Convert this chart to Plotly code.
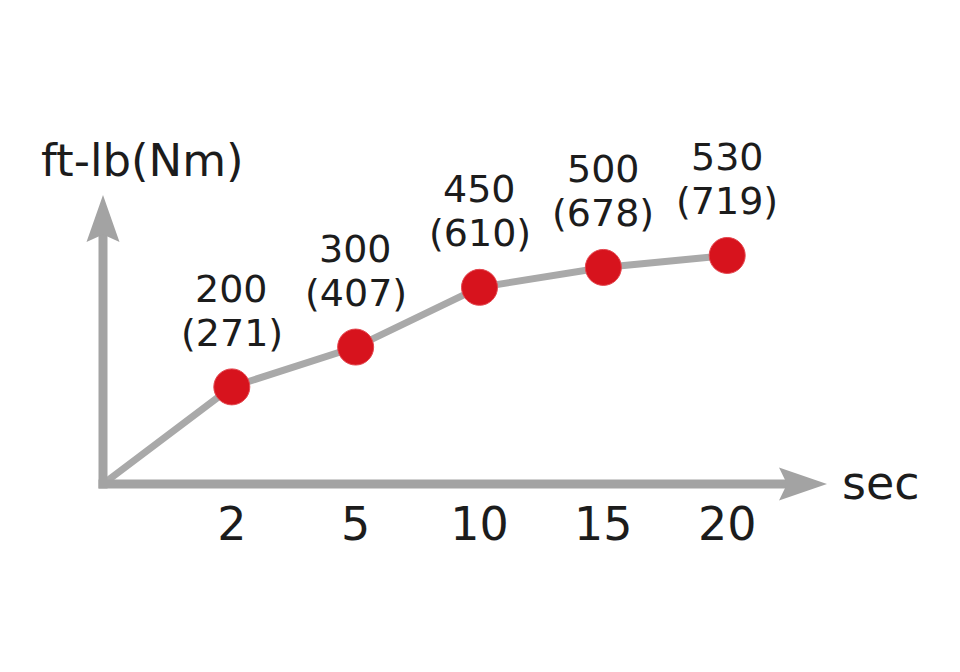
import plotly.graph_objects as go

# ---- data ----
seconds = ["2", "5", "10", "15", "20"]          # categories (tick labels)
torque_ftlb = [200, 300, 450, 500, 530]         # ft-lb values
torque_nm = [271, 407, 610, 678, 719]           # Nm values
x_title = "sec"
y_title = "ft-lb(Nm)"

positions = list(range(1, len(seconds) + 1))

# ---- frame geometry ----
W, H = 960, 672
X_BASE, Y_BASE = -0.04, -44          # where the drawn axes cross
PX_X, PX_Y = 123.85, 0.3988          # pixels per data unit
PAD = 20                             # px of room around the axis corner
ML, MB, MR, MT = 103 - PAD, 187.5 - PAD, 120, 190
PW, PH = W - ML - MR, H - MT - MB
X_MIN = X_BASE - PAD / PX_X
Y_MIN = Y_BASE - PAD / PX_Y
X_MAX = X_MIN + PW / PX_X
Y_MAX = Y_MIN + PH / PX_Y

AXIS_GREY = "#a3a3a3"
LINE_GREY = "#a9a9a9"
RED = "#d7131d"
TEXT = "#1c1c1c"
FONT = "DejaVu Sans"


def px(dx, dy):
    """pixel offset from the axis corner -> data coordinates"""
    return X_BASE + dx / PX_X, Y_BASE + dy / PX_Y


def paper(x_px, y_px):
    """page pixel (from top-left) -> paper coordinates"""
    return (x_px - ML) / PW, (H - MB - y_px) / PH


def path(points):
    s = []
    for i, (dx, dy) in enumerate(points):
        x, y = px(dx, dy)
        s.append(("M" if i == 0 else "L") + f"{x:.5f},{y:.5f}")
    return " ".join(s) + " Z"


fig = go.Figure()

# connecting line from the origin corner
fig.add_trace(go.Scatter(
    x=[X_BASE] + positions, y=[Y_BASE] + torque_ftlb,
    mode="lines", line=dict(color=LINE_GREY, width=7),
    hoverinfo="skip", showlegend=False, cliponaxis=False))

# red dots
fig.add_trace(go.Scatter(
    x=positions, y=torque_ftlb, mode="markers",
    marker=dict(size=36, color=RED, line=dict(width=1, color="#e4474f")),
    showlegend=False, cliponaxis=False, hoverinfo="skip"))

annotations = []
for p, v, nm in zip(positions, torque_ftlb, torque_nm):
    annotations.append(dict(x=p, y=v, xref="x", yref="y", text=str(v),
                            showarrow=False, yanchor="middle", yshift=98,
                            font=dict(family=FONT, size=38, color=TEXT)))
    annotations.append(dict(x=p, y=v, xref="x", yref="y", text=f"({nm})",
                            showarrow=False, yanchor="middle", yshift=54,
                            font=dict(family=FONT, size=38, color=TEXT)))

tx, ty = paper(142, 160)
annotations.append(dict(x=tx, y=ty, xref="paper", yref="paper", text=y_title,
                        showarrow=False, xanchor="center", yanchor="middle",
                        font=dict(family=FONT, size=45, color=TEXT)))
sx, sy = paper(881, 483)
annotations.append(dict(x=sx, y=sy, xref="paper", yref="paper", text=x_title,
                        showarrow=False, xanchor="center", yanchor="middle",
                        font=dict(family=FONT, size=46, color=TEXT)))

x0s, _ = px(-4.5, 0)
x1s, _ = px(686, 0)
_, y1s = px(0, 252)
_, ysb = px(0, -4.5)

shapes = [
    # x-axis shaft
    dict(type="line", xref="x", yref="y", x0=x0s, x1=x1s, y0=Y_BASE, y1=Y_BASE,
         line=dict(color=AXIS_GREY, width=9), layer="above"),
    # x-axis head
    dict(type="path", xref="x", yref="y",
         path=path([(724, 0), (676, 16.5), (684, 0), (676, -16.5)]),
         fillcolor=AXIS_GREY, line=dict(width=0), layer="above"),
    # y-axis shaft
    dict(type="line", xref="x", yref="y", x0=X_BASE, x1=X_BASE, y0=ysb, y1=y1s,
         line=dict(color=AXIS_GREY, width=9), layer="above"),
    # y-axis head
    dict(type="path", xref="x", yref="y",
         path=path([(0, 289.5), (16.5, 242.5), (0, 250), (-16.5, 242.5)]),
         fillcolor=AXIS_GREY, line=dict(width=0), layer="above"),
]

fig.update_layout(
    width=W, height=H,
    margin=dict(l=ML, r=MR, t=MT, b=MB, pad=0),
    paper_bgcolor="white", plot_bgcolor="white",
    showlegend=False,
    xaxis=dict(range=[X_MIN, X_MAX], showgrid=False, zeroline=False,
               showline=False, ticks="", tickvals=positions, ticktext=seconds,
               tickfont=dict(family=FONT, size=46, color=TEXT),
               ticklabelstandoff=-11, fixedrange=True),
    yaxis=dict(range=[Y_MIN, Y_MAX], showgrid=False, zeroline=False,
               showline=False, showticklabels=False, ticks="", fixedrange=True),
    shapes=shapes,
    annotations=annotations,
)

fig.write_html("out.html", config={"displayModeBar": False},
               post_script="document.body.style.margin='0';")
